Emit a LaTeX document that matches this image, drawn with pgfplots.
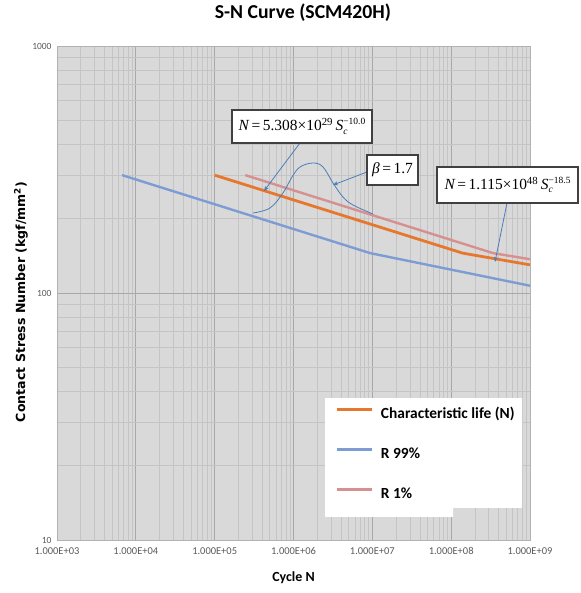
\documentclass[border=0pt]{standalone}
\usepackage{pgfplots}
\pgfplotsset{compat=1.18}
\usepackage{fontspec}
\setmainfont{Carlito}
\newfontfamily\dvs{DejaVu Sans}
\newfontfamily\tms{Liberation Serif}
\usetikzlibrary{arrows.meta}

\definecolor{charc}{HTML}{E8772E}
\definecolor{rnn}{HTML}{7E9CD4}
\definecolor{rone}{HTML}{D5908F}
\definecolor{plotbg}{HTML}{D9D9D9}
\definecolor{callout}{HTML}{4A7EBB}
\definecolor{ticktxt}{HTML}{595959}

% S_c with stacked sub/superscript, Times style
\newcommand\Sc[1]{{\itshape S}\makebox[0pt][l]{\raisebox{-0.5ex}{\fontsize{9.5}{9}\selectfont\itshape c}}\raisebox{0.85ex}{\fontsize{9.5}{9}\selectfont −#1}}

\begin{document}
\begin{tikzpicture}
\path[use as bounding box] (-57bp,-53bp) rectangle (524bp,540bp);
\begin{axis}[
    at={(0,0)}, anchor=south west,
    scale only axis,
    width=473bp, height=494bp,
    xmode=log, ymode=log,
    xmin=1e3, xmax=1e9, ymin=10, ymax=1000,
    axis background/.style={fill=plotbg},
    axis line style={draw=black!30},
    grid=both,
    major grid style={draw=black!34, line width=0.7pt},
    minor grid style={draw=black!23, line width=0.6pt},
    major tick length=0pt, minor tick length=0pt,
    xtick={1e3,1e4,1e5,1e6,1e7,1e8,1e9},
    xticklabels={1.000E+03,1.000E+04,1.000E+05,1.000E+06,1.000E+07,1.000E+08,1.000E+09},
    minor xtick={2e3,3e3,4e3,5e3,6e3,7e3,8e3,9e3,
                 2e4,3e4,4e4,5e4,6e4,7e4,8e4,9e4,
                 2e5,3e5,4e5,5e5,6e5,7e5,8e5,9e5,
                 2e6,3e6,4e6,5e6,6e6,7e6,8e6,9e6,
                 2e7,3e7,4e7,5e7,6e7,7e7,8e7,9e7,
                 2e8,3e8,4e8,5e8,6e8,7e8,8e8,9e8},
    ytick={10,100,1000}, yticklabels={10,100,1000},
    minor ytick={20,30,40,50,60,70,80,90,200,300,400,500,600,700,800,900},
    xticklabel style={font=\fontsize{10.5}{11}\selectfont, text=ticktxt, yshift=-4bp},
    yticklabel style={font=\fontsize{9.5}{10}\selectfont, text=ticktxt, xshift=-2bp},
    title={S-N Curve (SCM420H)},
    title style={at={(axis description cs:0.52,1.0547)}, anchor=center,
        font=\fontsize{19.8}{21}\selectfont\bfseries},
    xlabel={Cycle N},
    xlabel style={at={(axis description cs:0.5,-0.0769)}, anchor=center,
        font=\fontsize{14}{16}\selectfont\bfseries},
    ylabel={Contact Stress Number (kgf/mm\textsuperscript{2})},
    ylabel style={at={(axis description cs:-0.0761,0.482)}, anchor=center,
        font=\dvs\fontsize{12.6}{14}\selectfont\bfseries},
    legend style={at={(0.588,0.2706)}, anchor=north west, draw=none, fill=none,
        inner sep=0pt, row sep=24bp, column sep=0bp,
        font=\fontsize{15.5}{17}\selectfont\bfseries,
        nodes={inner sep=0pt, text height=12bp, text depth=4bp}},
    legend cell align=left,
    legend image code/.code={\path[draw=none, fill=none] (0bp,5bp) -- (44bp,5bp);
        \draw[#1, line width=3.2bp] (0bp,5bp) -- (35bp,5bp);},
]
% white legend panel
\fill[white] (rel axis cs:0.5666,0.2874) -- (rel axis cs:0.9831,0.2874)
    -- (rel axis cs:0.9831,0.0648) -- (rel axis cs:0.8372,0.0648)
    -- (rel axis cs:0.8372,0.0466) -- (rel axis cs:0.5666,0.0466) -- cycle;

\addplot[charc, line width=2.8bp] coordinates {
    (1e5,300) (1.4e8,145) (1e9,130)
};
\addplot[rnn, line width=2.4bp] coordinates {
    (6.7e3,300) (9.4e6,145) (1e9,107)
};
\addplot[rone, line width=2.4bp] coordinates {
    (2.45e5,300) (3.4e8,145) (1e9,137)
};
\legend{Characteristic life (N), R 99\%, R 1\%}
\end{axis}

% annotations
\begin{scope}[callout, line width=0.8bp]
  \draw plot[smooth, tension=0.6] coordinates {
      (196bp,327bp) (213bp,332bp) (226bp,347bp) (235bp,363bp) (243bp,373bp)
      (256bp,377bp) (266bp,373bp) (276bp,357bp) (286bp,343bp) (296bp,335bp) (316bp,326bp)};
  \draw[-{Stealth[length=5bp,width=4bp]}] (243bp,397bp) -- (207bp,349bp);
  \draw[-{Stealth[length=5bp,width=4bp]}] (310bp,368bp) -- (276bp,355bp);
  \draw[-{Stealth[length=5bp,width=4bp]}] (450bp,337bp) -- (438bp,278bp);
\end{scope}
\begin{scope}[every node/.style={draw=black!75, line width=1.1bp, fill=white, inner sep=3bp,
      font=\tms\fontsize{15.5}{16}\selectfont}]
  \node[minimum width=140bp, minimum height=33bp] at (245bp,413.5bp)
      {{\itshape N}\,=\,5.308×10\textsuperscript{29}\,\Sc{10.0}};
  \node[minimum width=51bp, minimum height=30bp] at (335.5bp,370bp)
      {{\itshape β}\,=\,1.7};
  \node[minimum width=141bp, minimum height=36bp] at (450.5bp,355bp)
      {{\itshape N}\,=\,1.115×10\textsuperscript{48}\,\Sc{18.5}};
\end{scope}
\end{tikzpicture}
\end{document}
